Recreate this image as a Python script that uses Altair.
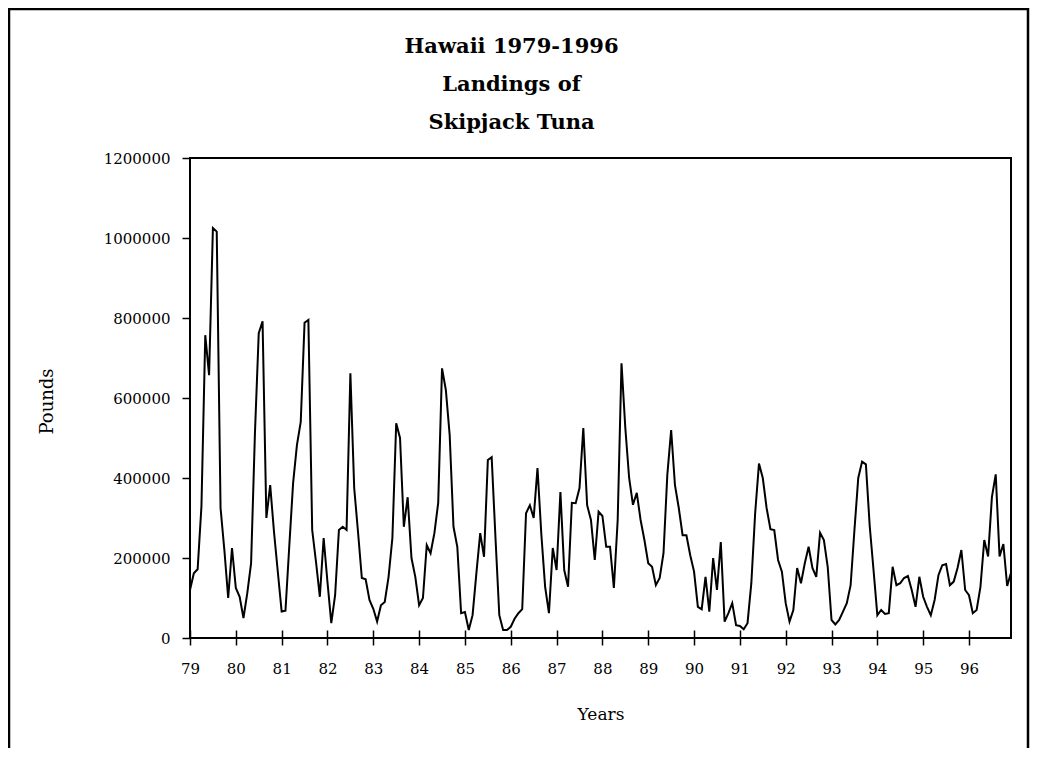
import altair as alt
import pandas as pd

# Monthly landings (pounds)
y1979 = [120000, 162000, 172000, 330000, 757000, 657000, 1025000, 1016000, 325000, 220000, 100000, 225000]
y1980 = [125000, 103000, 50000, 112000, 187000, 510000, 762000, 792000, 300000, 382000, 265000, 165000]
y1981 = [66000, 68000, 230000, 387000, 482000, 540000, 788000, 795000, 270000, 190000, 103000, 250000]
y1982 = [140000, 37000, 107000, 270000, 278000, 270000, 662000, 375000, 265000, 150000, 147000, 95000]
y1983 = [73000, 41000, 82000, 90000, 153000, 250000, 537000, 500000, 278000, 352000, 200000, 153000]
y1984 = [82000, 100000, 232000, 212000, 262000, 338000, 674000, 620000, 508000, 278000, 228000, 62000]
y1985 = [65000, 20000, 57000, 162000, 262000, 203000, 445000, 452000, 250000, 57000, 20000, 20000]
y1986 = [28000, 48000, 62000, 72000, 312000, 332000, 300000, 425000, 260000, 128000, 62000, 225000]
y1987 = [170000, 365000, 170000, 128000, 338000, 337000, 375000, 525000, 332000, 295000, 195000, 316000]
y1988 = [305000, 228000, 228000, 125000, 295000, 687000, 525000, 400000, 333000, 363000, 295000, 245000]
y1989 = [187000, 178000, 132000, 150000, 212000, 408000, 520000, 382000, 325000, 257000, 257000, 207000]
y1990 = [166000, 78000, 72000, 153000, 66000, 200000, 120000, 240000, 41000, 62000, 87000, 32000]
y1991 = [30000, 22000, 37000, 137000, 312000, 436000, 400000, 325000, 272000, 270000, 195000, 166000]
y1992 = [87000, 41000, 70000, 175000, 137000, 187000, 228000, 175000, 153000, 263000, 245000, 178000]
y1993 = [45000, 34000, 45000, 66000, 87000, 132000, 270000, 400000, 441000, 434000, 280000, 170000]
y1994 = [57000, 70000, 60000, 62000, 178000, 132000, 137000, 150000, 155000, 120000, 78000, 153000]
y1995 = [103000, 78000, 57000, 95000, 157000, 182000, 185000, 132000, 141000, 175000, 220000, 120000]
y1996 = [107000, 62000, 70000, 128000, 245000, 204000, 352000, 409000, 204000, 235000, 130000, 163000]

tick_years = [79, 80, 81, 82, 83, 84, 85, 86, 87, 88, 89, 90, 91, 92, 93, 94, 95, 96]
y_ticks = [0, 200000, 400000, 600000, 800000, 1000000, 1200000]
title_lines = ["Hawaii 1979-1996", "Landings of", "Skipjack Tuna"]

series = [y1979, y1980, y1981, y1982, y1983, y1984, y1985, y1986, y1987,
          y1988, y1989, y1990, y1991, y1992, y1993, y1994, y1995, y1996]
rows = []
for yr, vals in zip(tick_years, series):
    for m, v in enumerate(vals):
        rows.append({"year": yr + m / 12.0, "pounds": v})
df = pd.DataFrame(rows)

FONT = "DejaVu Serif"
W, H = 821, 480
x_end = tick_years[0] + (len(df) - 1) / 12.0

line = alt.Chart(df).mark_line(color="black", strokeWidth=2).encode(
    x=alt.X("year:Q",
            scale=alt.Scale(domain=[tick_years[0], x_end], nice=False, zero=False),
            axis=alt.Axis(values=tick_years, format="d", offset=-8, tickSize=15,
                          tickWidth=1.5, tickColor="black", domain=False, grid=False,
                          labelFont=FONT, labelFontSize=15, labelColor="black",
                          labelPadding=16, labelFlush=False,
                          title="Years", titleFont=FONT, titleFontSize=17,
                          titleFontWeight="normal", titleColor="black",
                          titleX=W / 2, titleY=84, titleAlign="center",
                          titleBaseline="middle")),
    y=alt.Y("pounds:Q",
            scale=alt.Scale(domain=[0, 1200000], nice=False),
            axis=alt.Axis(values=y_ticks, format="d", tickSize=8, tickWidth=1.5,
                          tickColor="black", domain=False, grid=False,
                          labelFont=FONT, labelFontSize=15, labelColor="black",
                          labelPadding=12,
                          title="Pounds", titleFont=FONT, titleFontSize=18,
                          titleFontWeight="normal", titleColor="black",
                          titleX=-143, titleY=243, titleAngle=-90,
                          titleAlign="center", titleBaseline="middle")),
)

frame = alt.Chart(pd.DataFrame({"f": [0]})).mark_rect(
    fill="white", fillOpacity=0, stroke="black", strokeWidth=2.5
).encode(x=alt.value(-181), x2=alt.value(838), y=alt.value(-149), y2=alt.value(700))

chart = alt.layer(frame, line).properties(
    width=W, height=H,
    title=alt.TitleParams(text=title_lines, font=FONT, fontSize=21, fontWeight="bold",
                          color="black", lineHeight=38, anchor="middle", dx=-89,
                          offset=-125),
    padding={"left": 182, "top": 150, "right": 19, "bottom": 110},
    autosize=alt.AutoSizeParams(type="none"),
).configure(background="white").configure_view(stroke="black", strokeWidth=2)

chart.save("out.html", embed_options={"renderer": "svg", "actions": False})
